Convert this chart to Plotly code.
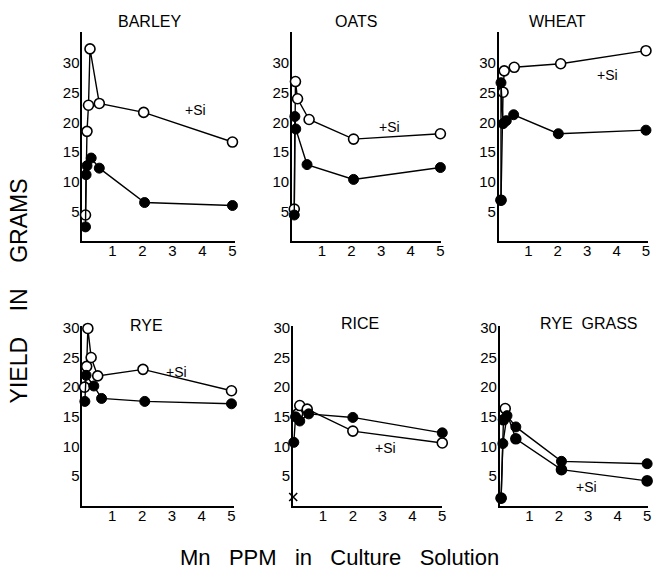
import plotly.graph_objects as go

W, H = 655, 574

# ---------------- data (Mn ppm, yield in grams) ----------------
crops = ["BARLEY", "OATS", "WHEAT", "RYE", "RICE", "RYE GRASS"]

barley_si_x = [0.10, 0.15, 0.20, 0.25, 0.56, 2.04, 5.0]
barley_si_y = [4.4, 18.5, 22.9, 32.4, 23.2, 21.7, 16.7]
barley_x = [0.10, 0.12, 0.15, 0.29, 0.56, 2.07, 5.0]
barley_y = [2.4, 11.2, 12.7, 14.0, 12.3, 6.5, 6.0]

oats_si_x = [0.07, 0.11, 0.18, 0.57, 2.07, 5.0]
oats_si_y = [5.4, 26.9, 24.0, 20.5, 17.2, 18.1]
oats_x = [0.07, 0.09, 0.12, 0.50, 2.07, 5.0]
oats_y = [4.4, 21.0, 18.9, 12.9, 10.4, 12.4]

wheat_si_x = [0.07, 0.14, 0.18, 0.52, 2.1, 5.0]
wheat_si_y = [6.9, 25.1, 28.7, 29.3, 29.9, 32.1]
wheat_x = [0.07, 0.07, 0.14, 0.25, 0.50, 2.02, 5.0]
wheat_y = [6.9, 26.7, 19.8, 20.3, 21.3, 18.1, 18.7]

rye_si_x = [0.07, 0.14, 0.18, 0.29, 0.51, 2.03, 5.0]
rye_si_y = [20.0, 23.5, 29.9, 25.0, 21.9, 23.0, 19.4]
rye_x = [0.08, 0.12, 0.38, 0.64, 2.09, 5.0]
rye_y = [17.6, 22.0, 20.2, 18.1, 17.6, 17.2]

rice_si_x = [0.15, 0.22, 0.47, 2.0, 5.0]
rice_si_y = [15.5, 16.9, 16.3, 12.6, 10.6]
rice_x = [0.02, 0.08, 0.22, 0.52, 2.0, 5.0]
rice_y = [10.7, 15.0, 14.3, 15.5, 14.9, 12.3]
rice_cross_x = [0.0]
rice_cross_y = [1.5]

ryegrass_si_x = [0.04, 0.12, 0.18, 0.54, 2.09, 5.0]
ryegrass_si_y = [1.3, 14.5, 16.4, 11.3, 6.1, 4.2]
ryegrass_x = [0.04, 0.10, 0.24, 0.54, 2.09, 5.0]
ryegrass_y = [1.3, 10.5, 15.2, 13.3, 7.5, 7.1]

x_ticks = [1, 2, 3, 4, 5]
y_ticks = [5, 10, 15, 20, 25, 30]

series = {
    "BARLEY": (barley_si_x, barley_si_y, barley_x, barley_y),
    "OATS": (oats_si_x, oats_si_y, oats_x, oats_y),
    "WHEAT": (wheat_si_x, wheat_si_y, wheat_x, wheat_y),
    "RYE": (rye_si_x, rye_si_y, rye_x, rye_y),
    "RICE": (rice_si_x, rice_si_y, rice_x, rice_y),
    "RYE GRASS": (ryegrass_si_x, ryegrass_si_y, ryegrass_x, ryegrass_y),
}

# ---------------- layout geometry (pixels) ----------------
# (x_left, x_right, y_top, y_bottom, x_max, y_max)
panels = {
    "BARLEY": (83, 236, 25, 237, 5.07, 35.3),
    "OATS": (294, 444, 25, 237, 5.03, 35.3),
    "WHEAT": (502, 652, 25, 237, 5.07, 35.3),
    "RYE": (83, 235, 323, 505, 5.07, 30.3),
    "RICE": (295, 445, 323, 505, 5.0, 30.3),
    "RYE GRASS": (503, 652, 323, 505, 5.03, 30.3),
}
title_pos = {
    "BARLEY": (150, 15), "OATS": (358, 15), "WHEAT": (561, 15),
    "RYE": (147, 322), "RICE": (362, 320), "RYE GRASS": (593, 320),
}
si_pos = {
    "BARLEY": (197, 104), "OATS": (392, 121), "WHEAT": (611, 69),
    "RYE": (178, 369), "RICE": (388, 446), "RYE GRASS": (590, 486),
}

def px(x):
    return x / W

def py(y):
    return 1 - y / H

FONT = "Liberation Sans, Arial, sans-serif"
fig = go.Figure()
layout = dict(
    width=W, height=H, margin=dict(l=0, r=0, t=0, b=0),
    paper_bgcolor="white", plot_bgcolor="white", showlegend=False,
    font=dict(family=FONT, color="black", size=15),
)
annotations = []

for i, crop in enumerate(crops, start=1):
    xl, xr, yt, yb, xmax, ymax = panels[crop]
    xa = "x" if i == 1 else f"x{i}"
    ya = "y" if i == 1 else f"y{i}"
    xkey = "xaxis" if i == 1 else f"xaxis{i}"
    ykey = "yaxis" if i == 1 else f"yaxis{i}"
    layout[xkey] = dict(
        domain=[px(xl), px(xr)], range=[0, xmax], anchor=ya,
        showline=True, linecolor="black", linewidth=2, showgrid=False,
        zeroline=False, ticks="", tickvals=x_ticks,
        ticktext=[str(t) for t in x_ticks], tickfont=dict(size=15, family=FONT),
        ticklabelstandoff=-5,
        layer="below traces", fixedrange=True,
    )
    layout[ykey] = dict(
        domain=[py(yb), py(yt)], range=[0, ymax], anchor=xa,
        showline=True, linecolor="black", linewidth=2, showgrid=False,
        zeroline=False, ticks="", tickvals=y_ticks,
        ticktext=[str(t) for t in y_ticks], tickfont=dict(size=15, family=FONT),
        ticklabelstandoff=-2,
        layer="below traces", fixedrange=True,
    )
    si_x, si_y, no_x, no_y = series[crop]
    # +Si series (open circles, except rye grass where markers are mostly filled)
    if crop == "RYE GRASS":
        si_colors = ["black"] * len(si_x)
        si_colors[2] = "white"
    else:
        si_colors = "white"
    fig.add_trace(go.Scatter(
        x=si_x, y=si_y, mode="lines+markers", xaxis=xa, yaxis=ya,
        line=dict(color="black", width=1.4),
        marker=dict(symbol="circle", size=10, color=si_colors,
                    line=dict(color="black", width=1.6)),
        cliponaxis=False,
    ))
    fig.add_trace(go.Scatter(
        x=no_x, y=no_y, mode="lines+markers", xaxis=xa, yaxis=ya,
        line=dict(color="black", width=1.4),
        marker=dict(symbol="circle", size=10, color="black",
                    line=dict(color="black", width=1)),
        cliponaxis=False,
    ))
    if crop == "RICE":
        fig.add_trace(go.Scatter(
            x=rice_cross_x, y=rice_cross_y, mode="markers", xaxis=xa, yaxis=ya,
            marker=dict(symbol="x-thin", size=8, line=dict(color="black", width=1.6)),
            cliponaxis=False,
        ))
    tx, ty = title_pos[crop]
    annotations.append(dict(
        text=crop.replace(" ", "\u00a0\u00a0"), x=px(tx), y=py(ty), xref="paper", yref="paper",
        showarrow=False, xanchor="center", yanchor="middle",
        font=dict(size=16, family=FONT, color="black"),
    ))
    sx, sy = si_pos[crop]
    annotations.append(dict(
        text="+Si", x=px(sx), y=py(sy), xref="paper", yref="paper",
        showarrow=False, xanchor="center", yanchor="middle",
        font=dict(size=14, family=FONT, color="black"),
    ))

sp = "\u00a0" * 3
annotations.append(dict(
    text=sp.join(["Mn", "PPM", "in", "Culture", "Solution"]),
    x=px(342), y=py(557), xref="paper", yref="paper", showarrow=False,
    xanchor="center", yanchor="middle", font=dict(size=22, family=FONT, color="black"),
))
sp4 = "\u00a0" * 4
annotations.append(dict(
    text=sp4.join(["YIELD", "IN", "GRAMS"]),
    x=px(19), y=py(287), xref="paper", yref="paper", showarrow=False,
    xanchor="center", yanchor="middle", textangle=-90,
    font=dict(size=23, family=FONT, color="black"),
))
layout["annotations"] = annotations
fig.update_layout(**layout)
fig.write_html("out.html")
